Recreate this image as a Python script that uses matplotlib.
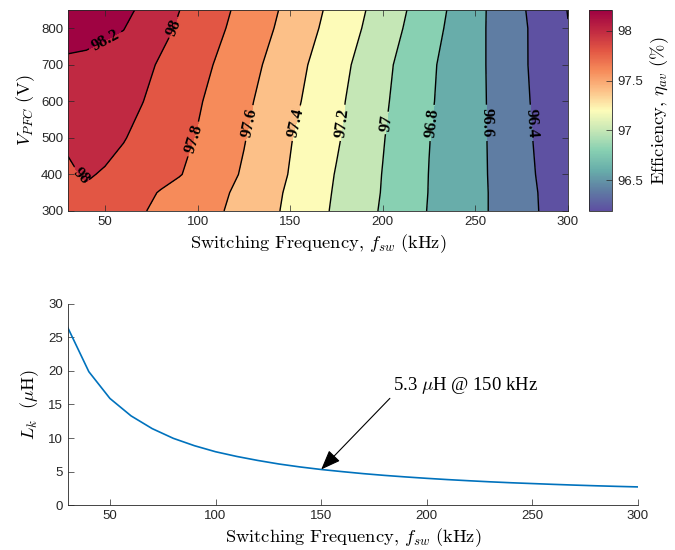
import matplotlib
matplotlib.use("Agg")
import matplotlib.pyplot as plt
import numpy as np
from matplotlib.colors import LinearSegmentedColormap, Normalize
from matplotlib.cm import ScalarMappable

# ---- data ----
# efficiency map: switching frequency (kHz) x PFC voltage (V)
freq_khz = [30, 40, 50, 60, 70, 80, 90, 100, 125, 150, 175, 200, 225, 250, 275, 300]
vpfc = [300, 350, 400, 500, 600, 700, 800, 850]
eff_300 = [97.96, 97.93, 97.90, 97.86, 97.81, 97.77, 97.72, 97.68, 97.54, 97.36, 97.17, 96.98, 96.79, 96.65, 96.47, 96.28]
eff_350 = [97.96, 97.97, 97.94, 97.90, 97.84, 97.79, 97.74, 97.69, 97.56, 97.37, 97.18, 96.99, 96.795, 96.65, 96.47, 96.27]
eff_400 = [97.97, 98.02, 97.98, 97.94, 97.90, 97.85, 97.81, 97.75, 97.58, 97.39, 97.19, 96.995, 96.797, 96.65, 96.46, 96.26]
eff_500 = [98.03, 98.07, 98.07, 98.01, 97.95, 97.90, 97.84, 97.79, 97.61, 97.41, 97.22, 97.01, 96.804, 96.65, 96.45, 96.24]
eff_600 = [98.10, 98.12, 98.11, 98.07, 98.005, 97.94, 97.88, 97.82, 97.64, 97.45, 97.24, 97.03, 96.82, 96.65, 96.44, 96.22]
eff_700 = [98.17, 98.18, 98.16, 98.12, 98.05, 97.98, 97.92, 97.86, 97.68, 97.48, 97.27, 97.05, 96.83, 96.65, 96.43, 96.21]
eff_800 = [98.27, 98.23, 98.22, 98.205, 98.13, 98.05, 97.98, 97.91, 97.73, 97.53, 97.32, 97.10, 96.87, 96.65, 96.43, 96.205]
eff_850 = [98.30, 98.28, 98.26, 98.23, 98.18, 98.09, 98.003, 97.93, 97.75, 97.55, 97.34, 97.12, 96.89, 96.655, 96.42, 96.195]
contour_levels = [96.2, 96.4, 96.6, 96.8, 97.0, 97.2, 97.4, 97.6, 97.8, 98.0, 98.2]

# leakage inductance vs switching frequency
lk_freq = [30, 40, 50, 60, 70, 80, 90, 100, 110, 120, 130, 140, 150, 160, 170, 180, 190, 200,
           210, 220, 230, 240, 250, 260, 270, 280, 290, 300]
lk_uh = [26.5, 19.9, 15.9, 13.3, 11.4, 9.95, 8.85, 7.95, 7.25, 6.65, 6.12, 5.68, 5.3, 4.98, 4.68,
         4.42, 4.19, 3.98, 3.79, 3.62, 3.46, 3.32, 3.2, 3.08, 2.97, 2.87, 2.78, 2.7]

plt.rcParams["mathtext.fontset"] = "cm"
plt.rcParams["font.family"] = ["Liberation Sans", "DejaVu Sans"]
axcol = "#262626"
lab_fs = 13.3

# colormap (MATLAB style: region above a level takes that level's colour)
cb_vals = [96.19, 96.4, 96.6, 96.8, 97.0, 97.2, 97.4, 97.6, 97.8, 98.0, 98.21]
cb_cols = ["#5e4fa2", "#5f7ea3", "#68aeaa", "#88d0b2", "#c6e7b6", "#fdfcb9",
           "#fcc188", "#f68b5a", "#e35744", "#c12a42", "#9e0142"]
norm = Normalize(vmin=96.19, vmax=98.21)
cmap = LinearSegmentedColormap.from_list("eff", [(norm(v), c) for v, c in zip(cb_vals, cb_cols)])

fig = plt.figure(figsize=(6.75, 5.5), dpi=100)
ax1 = fig.add_axes([0.1007, 0.6164, 0.7407, 0.3655])
cax = fig.add_axes([0.8726, 0.6164, 0.0341, 0.3655])
ax2 = fig.add_axes([0.1003, 0.0818, 0.8449, 0.3655])

X, Y = np.meshgrid(freq_khz, vpfc)
Z = np.array([eff_300, eff_350, eff_400, eff_500, eff_600, eff_700, eff_800, eff_850])

fill_levels = [96.0] + contour_levels + [98.5]
fill_cols = [cmap(norm(max(lo, 96.19))) for lo in fill_levels[:-1]]
ax1.contourf(X, Y, Z, levels=fill_levels, colors=fill_cols)
cs = ax1.contour(X, Y, Z, levels=contour_levels, colors="k", linewidths=1.0)
label_pos = [(50.8, 760), (87.7, 801), (36.5, 393), (99.4, 494), (127.7, 541), (152.5, 541),
             (178.6, 541), (202, 541), (226.2, 541), (256, 541), (280, 541)]
lbls = ax1.clabel(cs, manual=label_pos, fmt="%g", inline=True, inline_spacing=2, fontsize=12)
for t in lbls:
    t.set_fontfamily("Liberation Serif")
    t.set_fontweight("bold")

xlab = r"$\mathrm{Switching\ Frequency,}\,f_{sw}\ \mathrm{(kHz)}$"
ax1.set_xlim(30, 300)
ax1.set_ylim(300, 850)
ax1.set_xticks([50, 100, 150, 200, 250, 300])
ax1.set_yticks([300, 400, 500, 600, 700, 800])
ax1.set_xlabel(xlab, fontsize=lab_fs, labelpad=3)
ax1.set_ylabel(r"$V_{PFC}\ \mathrm{(V)}$", fontsize=lab_fs, labelpad=3)

cb = fig.colorbar(ScalarMappable(norm=norm, cmap=cmap), cax=cax)
cb.set_ticks([96.5, 97, 97.5, 98])
cb.set_ticklabels(["96.5", "97", "97.5", "98"])
cb.set_label(r"$\mathrm{Efficiency,}\,\eta_{av}\ \mathrm{(\%)}$", fontsize=lab_fs, labelpad=4)
cb.outline.set_edgecolor(axcol)
cb.outline.set_linewidth(0.6)
cax.tick_params(direction="in", length=4, width=0.5, colors=axcol, labelsize=9.5)

ax1.tick_params(direction="in", length=4, width=0.5, colors=axcol, labelsize=9.5,
                top=True, right=True)
for s in ax1.spines.values():
    s.set_color(axcol)
    s.set_linewidth(0.6)

# bottom: leakage inductance
ax2.plot(lk_freq, lk_uh, color="#0072bd", linewidth=1.2)
ax2.set_xlim(30, 300)
ax2.set_ylim(0, 30)
ax2.set_xticks([50, 100, 150, 200, 250, 300])
ax2.set_yticks([0, 5, 10, 15, 20, 25, 30])
ax2.spines["top"].set_visible(False)
ax2.spines["right"].set_visible(False)
for s in ("left", "bottom"):
    ax2.spines[s].set_color(axcol)
    ax2.spines[s].set_linewidth(0.6)
ax2.tick_params(direction="in", length=4, width=0.5, colors=axcol, labelsize=9.5)
ax2.set_xlabel(xlab, fontsize=lab_fs, labelpad=3)
ax2.set_ylabel(r"$L_k\ \ (\mu\mathrm{H})$", fontsize=lab_fs, labelpad=5)

ax2.annotate(r"5.3 $\mu$H @ 150 kHz", xy=(150, 5.3), xytext=(183.8, 17.9),
             fontsize=13.5, fontfamily="Liberation Serif", va="center", ha="left",
             arrowprops=dict(arrowstyle="-|>,head_length=0.9,head_width=0.35", color="k",
                             lw=0.8, shrinkA=0, shrinkB=0,
                             relpos=(0.0, 0.0)))

fig.savefig("out.png", dpi=100)
